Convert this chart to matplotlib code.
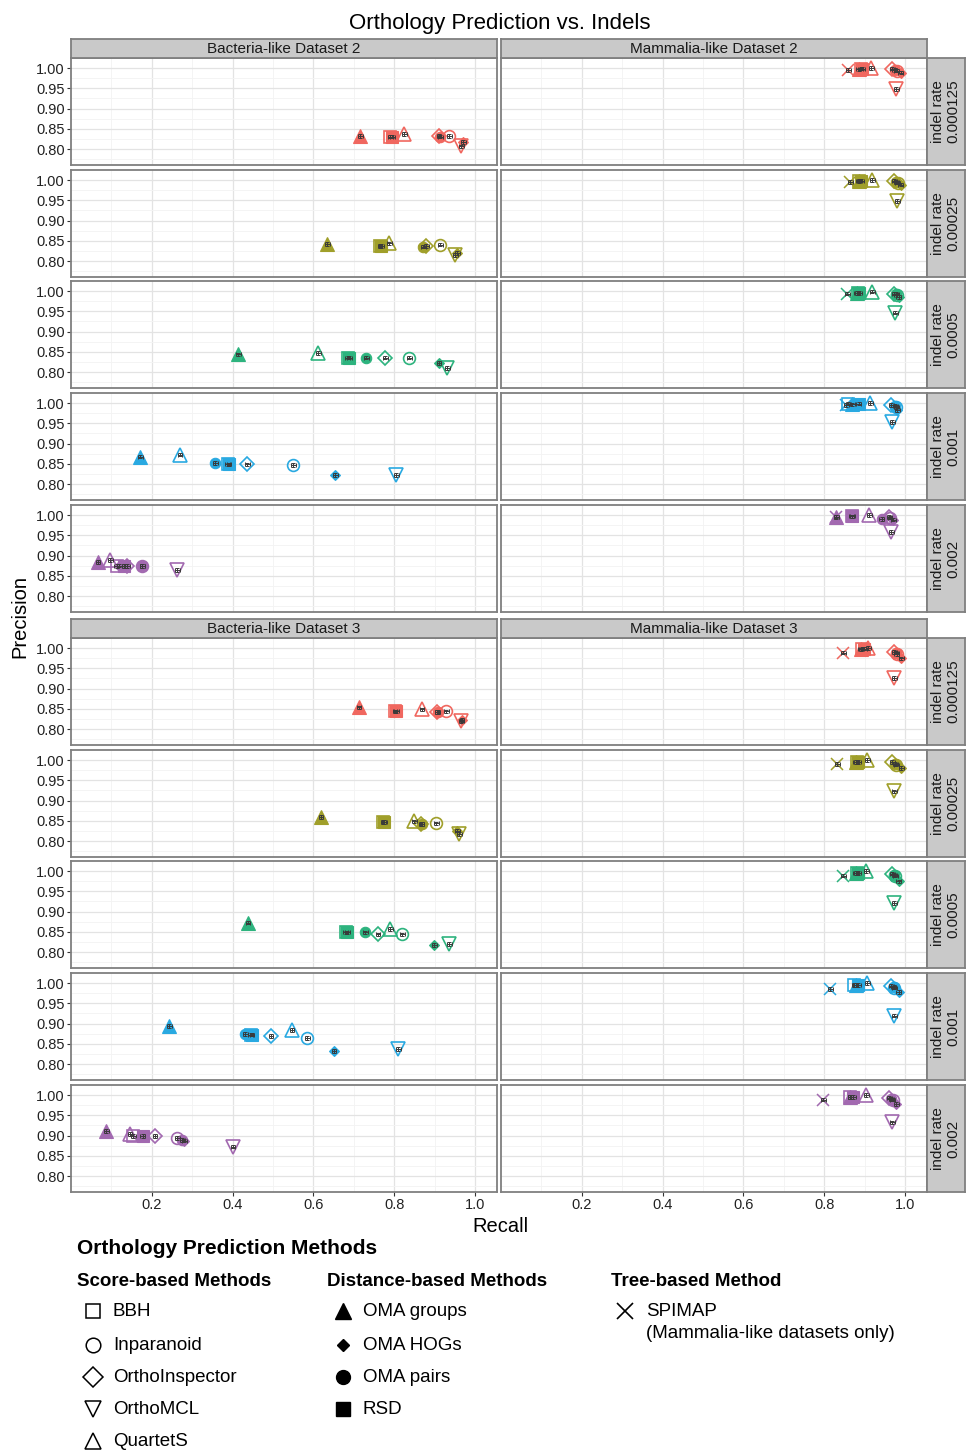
import matplotlib.pyplot as plt
import numpy as np

plt.rcParams['font.family'] = ['Liberation Sans', 'DejaVu Sans']

panel_titles = ['Bacteria-like Dataset 2', 'Mammalia-like Dataset 2',
                'Bacteria-like Dataset 3', 'Mammalia-like Dataset 3']
indel_rates = ['0.000125', '0.00025', '0.0005', '0.001', '0.002']
rate_colors = ['#F0675F', '#A09F2A', '#2DB37E', '#29A9E1', '#A269B0']

# Each list: Bacteria-2, Mammalia-2, Bacteria-3, Mammalia-3 (5 indel rates each)
bbh_rec = [0.790, 0.765, 0.685, 0.388, 0.113,
           0.890, 0.887, 0.883, 0.860, 0.868,
           0.802, 0.773, 0.680, 0.445, 0.154,
           0.893, 0.880, 0.880, 0.875, 0.865]
bbh_prec = [0.830, 0.837, 0.835, 0.849, 0.874,
            0.998, 0.998, 0.995, 0.998, 0.997,
            0.844, 0.847, 0.849, 0.872, 0.899,
            0.998, 0.995, 0.995, 0.995, 0.995]

inparanoid_rec = [0.936, 0.914, 0.837, 0.550, 0.176,
                  0.980, 0.982, 0.980, 0.978, 0.963,
                  0.929, 0.904, 0.820, 0.585, 0.263,
                  0.980, 0.978, 0.976, 0.974, 0.970]
inparanoid_prec = [0.832, 0.840, 0.835, 0.847, 0.874,
                   0.993, 0.993, 0.990, 0.990, 0.993,
                   0.844, 0.844, 0.844, 0.864, 0.894,
                   0.985, 0.988, 0.988, 0.988, 0.988]

orthoinspector_rec = [0.911, 0.879, 0.778, 0.436, 0.139,
                      0.969, 0.974, 0.974, 0.966, 0.961,
                      0.906, 0.867, 0.760, 0.495, 0.208,
                      0.974, 0.969, 0.969, 0.966, 0.961]
orthoinspector_prec = [0.832, 0.837, 0.835, 0.849, 0.874,
                       0.998, 0.998, 0.993, 0.995, 0.995,
                       0.842, 0.842, 0.844, 0.869, 0.899,
                       0.990, 0.995, 0.993, 0.993, 0.993]

orthomcl_rec = [0.966, 0.951, 0.931, 0.805, 0.263,
                0.979, 0.981, 0.976, 0.969, 0.966,
                0.966, 0.961, 0.936, 0.810, 0.401,
                0.974, 0.974, 0.974, 0.974, 0.969]
orthomcl_prec = [0.807, 0.815, 0.810, 0.822, 0.864,
                 0.948, 0.948, 0.946, 0.953, 0.958,
                 0.820, 0.817, 0.820, 0.837, 0.872,
                 0.926, 0.923, 0.921, 0.919, 0.933]

quartets_rec = [0.825, 0.788, 0.612, 0.270, 0.097,
                0.917, 0.919, 0.919, 0.914, 0.912,
                0.869, 0.850, 0.790, 0.547, 0.146,
                0.909, 0.907, 0.904, 0.907, 0.904]
quartets_prec = [0.837, 0.844, 0.847, 0.872, 0.889,
                 1.000, 1.000, 0.998, 1.000, 1.000,
                 0.849, 0.849, 0.857, 0.884, 0.904,
                 1.000, 1.000, 1.000, 1.000, 1.000]

oma_groups_rec = [0.716, 0.634, 0.414, 0.171, 0.067,
                  0.885, 0.885, 0.880, 0.870, 0.830,
                  0.713, 0.619, 0.438, 0.243, 0.087,
                  0.890, 0.878, 0.878, 0.878, 0.865]
oma_groups_prec = [0.832, 0.842, 0.844, 0.867, 0.884,
                   0.997, 0.997, 0.995, 0.997, 0.996,
                   0.854, 0.859, 0.872, 0.894, 0.911,
                   0.997, 0.995, 0.995, 0.995, 0.995]

oma_hogs_rec = [0.971, 0.956, 0.911, 0.654, 0.120,
                0.989, 0.989, 0.984, 0.981, 0.971,
                0.968, 0.956, 0.899, 0.651, 0.280,
                0.991, 0.991, 0.984, 0.984, 0.979]
oma_hogs_prec = [0.817, 0.820, 0.822, 0.822, 0.875,
                 0.988, 0.988, 0.985, 0.983, 0.988,
                 0.822, 0.825, 0.817, 0.832, 0.887,
                 0.975, 0.980, 0.975, 0.978, 0.978]

oma_pairs_rec = [0.914, 0.872, 0.731, 0.357, 0.176,
                 0.975, 0.978, 0.978, 0.976, 0.942,
                 0.908, 0.869, 0.728, 0.431, 0.275,
                 0.978, 0.976, 0.974, 0.972, 0.966]
oma_pairs_prec = [0.830, 0.835, 0.835, 0.852, 0.874,
                  0.995, 0.995, 0.993, 0.993, 0.990,
                  0.842, 0.842, 0.849, 0.874, 0.889,
                  0.988, 0.990, 0.990, 0.990, 0.990]

rsd_rec = [0.795, 0.768, 0.689, 0.391, 0.132,
           0.894, 0.892, 0.887, 0.885, 0.870,
           0.805, 0.775, 0.684, 0.448, 0.178,
           0.899, 0.884, 0.884, 0.884, 0.872]
rsd_prec = [0.830, 0.837, 0.835, 0.849, 0.874,
            0.998, 0.998, 0.995, 0.998, 0.997,
            0.844, 0.847, 0.849, 0.872, 0.899,
            0.998, 0.995, 0.995, 0.995, 0.995]

nan = np.nan
spimap_rec = [nan, nan, nan, nan, nan,
              0.860, 0.865, 0.857, 0.855, 0.830,
              nan, nan, nan, nan, nan,
              0.847, 0.832, 0.847, 0.815, 0.798]
spimap_prec = [nan, nan, nan, nan, nan,
               0.995, 0.995, 0.993, 0.995, 0.995,
               nan, nan, nan, nan, nan,
               0.988, 0.990, 0.988, 0.985, 0.988]

# name, recall, precision, marker, filled, size
methods = [
    ('BBH', bbh_rec, bbh_prec, 's', False, 8),
    ('Inparanoid', inparanoid_rec, inparanoid_prec, 'o', False, 8.5),
    ('OrthoInspector', orthoinspector_rec, orthoinspector_prec, 'D', False, 7.5),
    ('OrthoMCL', orthomcl_rec, orthomcl_prec, 'v', False, 9.5),
    ('QuartetS', quartets_rec, quartets_prec, '^', False, 10),
    ('OMA groups', oma_groups_rec, oma_groups_prec, '^', True, 9.5),
    ('OMA HOGs', oma_hogs_rec, oma_hogs_prec, 'D', True, 5.5),
    ('OMA pairs', oma_pairs_rec, oma_pairs_prec, 'o', True, 7.5),
    ('RSD', rsd_rec, rsd_prec, 's', True, 8),
    ('SPIMAP', spimap_rec, spimap_prec, 'x', False, 9),
]

W, H = 966, 1454
fig = plt.figure(figsize=(W / 100, H / 100), dpi=100)


def rect(x0, y0, x1, y1):
    return [x0 / W, 1 - y1 / H, (x1 - x0) / W, (y1 - y0) / H]


border = '#7F7F7F'
strip_fill = '#C9C9C9'
tick_rows = [68, 180, 291, 403, 515, 648, 760, 871, 983, 1095]
col_x = [(71, 497), (501, 927)]

for row in range(10):
    y1 = tick_rows[row]
    top, bottom = y1 - 10, y1 + 97
    block, rate = divmod(row, 5)
    color = rate_colors[rate]
    for col in range(2):
        g = block * 2 + col
        idx = g * 5 + rate
        x0, x1 = col_x[col]
        ax = fig.add_axes(rect(x0, top, x1, bottom))
        ax.set_xlim(0.0, 1.0545)
        ax.set_ylim(0.7605, 1.0247)
        ax.set_xticks([0.2, 0.4, 0.6, 0.8, 1.0])
        ax.set_xticks([0.1, 0.3, 0.5, 0.7, 0.9], minor=True)
        ax.set_yticks([0.80, 0.85, 0.90, 0.95, 1.00])
        ax.set_yticks([0.775, 0.825, 0.875, 0.925, 0.975], minor=True)
        ax.grid(which='major', color='#E3E3E3', lw=0.9, zorder=0)
        ax.grid(which='minor', color='#F3F3F3', lw=0.6, zorder=0)
        ax.set_axisbelow(True)
        for sp in ax.spines.values():
            sp.set_color(border)
            sp.set_linewidth(1.3)
        ax.tick_params(which='minor', length=0)
        ax.tick_params(which='major', length=3, width=0.8, color='#333333',
                       labelsize=10.5, labelcolor='#222222', pad=1.5)
        if col == 0:
            ax.set_yticklabels(['0.80', '0.85', '0.90', '0.95', '1.00'])
        else:
            ax.tick_params(axis='y', length=0, labelleft=False)
        if row == 9:
            ax.set_xticklabels(['0.2', '0.4', '0.6', '0.8', '1.0'])
        else:
            ax.tick_params(axis='x', length=0, labelbottom=False)

        for name, rec, prec, mk, filled, ms in methods:
            xv, yv = rec[idx], prec[idx]
            if np.isnan(xv):
                continue
            if mk == 'x':
                ax.plot(xv, yv, marker='x', ms=ms, mew=1.1, color=color,
                        ls='none', zorder=3)
            elif filled:
                ax.plot(xv, yv, marker=mk, ms=ms, mfc=color, mec=color,
                        mew=0.8, ls='none', zorder=3)
            else:
                ax.plot(xv, yv, marker=mk, ms=ms, mfc='none', mec=color,
                        mew=1.2, ls='none', zorder=3)
            ax.errorbar(xv, yv, xerr=0.006, yerr=0.004, fmt='none',
                        ecolor='#3A3A3A', elinewidth=0.7, capsize=1.5,
                        capthick=0.7, zorder=4)

        # panel title strip
        if rate == 0:
            sax = fig.add_axes(rect(x0, top - 19, x1, top))
            sax.set_facecolor(strip_fill)
            sax.set_xticks([])
            sax.set_yticks([])
            for sp in sax.spines.values():
                sp.set_color(border)
                sp.set_linewidth(1.3)
            sax.text(0.5, 0.45, panel_titles[g], ha='center', va='center',
                     fontsize=11, color='#1A1A1A', transform=sax.transAxes)

    # indel rate strip
    rax = fig.add_axes(rect(927, top, 965, bottom))
    rax.set_facecolor(strip_fill)
    rax.set_xticks([])
    rax.set_yticks([])
    for sp in rax.spines.values():
        sp.set_color(border)
        sp.set_linewidth(1.3)
    rax.text(0.5, 0.5, 'indel rate\n' + indel_rates[rate], rotation=90,
             ha='center', va='center', fontsize=11, color='#1A1A1A',
             linespacing=1.1, transform=rax.transAxes)

fig.text(500 / W, 1 - 23 / H, 'Orthology Prediction vs. Indels',
         ha='center', va='center', fontsize=16)
fig.text(500 / W, 1 - 1226 / H, 'Recall', ha='center', va='center',
         fontsize=14.5)
fig.text(20 / W, 1 - 617 / H, 'Precision', ha='center', va='center',
         fontsize=14.5, rotation=90)

# legend drawn in pixel space
lax = fig.add_axes([0, 0, 1, 1])
lax.set_xlim(0, W)
lax.set_ylim(H, 0)
lax.axis('off')
lax.patch.set_visible(False)

lax.text(77, 1249, 'Orthology Prediction Methods', fontsize=15,
         fontweight='bold', va='center')
lax.text(77, 1281, 'Score-based Methods', fontsize=13.5, fontweight='bold',
         va='center')
lax.text(327, 1281, 'Distance-based Methods', fontsize=13.5,
         fontweight='bold', va='center')
lax.text(611, 1281, 'Tree-based Method', fontsize=13.5, fontweight='bold',
         va='center')

legend_rows = [1311, 1345, 1377, 1409, 1441]
score_items = [('BBH', 's', 10), ('Inparanoid', 'o', 10.5),
               ('OrthoInspector', 'D', 10), ('OrthoMCL', 'v', 12),
               ('QuartetS', '^', 12)]
distance_items = [('OMA groups', '^', 12), ('OMA HOGs', 'D', 6.5),
                  ('OMA pairs', 'o', 10), ('RSD', 's', 10)]

for (label, mk, ms), yy in zip(score_items, legend_rows):
    lax.plot(93, yy, marker=mk, ms=ms, mfc='none', mec='black', mew=1.1,
             ls='none')
    lax.text(113, yy, label, fontsize=13.5, va='center')
for (label, mk, ms), yy in zip(distance_items, legend_rows):
    lax.plot(343, yy, marker=mk, ms=ms, mfc='black', mec='black', ls='none')
    lax.text(363, yy, label, fontsize=13.5, va='center')
lax.plot(625, 1311, marker='x', ms=11, mew=1.2, color='black', ls='none')
lax.text(646, 1311, 'SPIMAP', fontsize=13.5, va='center')
lax.text(646, 1334, '(Mammalia-like datasets only)', fontsize=13.5,
         va='center')

fig.savefig('out.png', dpi=100)
